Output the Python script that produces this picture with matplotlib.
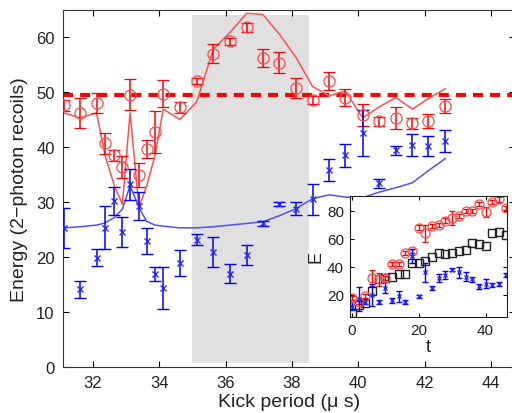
import numpy as np
import matplotlib
matplotlib.use('Agg')
import matplotlib.pyplot as plt

plt.rcParams['font.family'] = ['Liberation Sans', 'DejaVu Sans']

# main panel: kick period scan
kick = [31.12, 31.61, 32.11, 32.37, 32.65, 32.89, 33.12, 33.39, 33.62, 33.87,
        34.12, 34.62, 35.13, 35.63, 36.13, 36.63, 37.12, 37.62, 38.12, 38.62,
        39.12, 39.60, 40.13, 40.63, 41.13, 41.63, 42.11, 42.62]

red_E = [47.6, 46.2, 48.0, 40.7, 38.5, 36.3, 49.5, 34.9, 39.6, 42.7,
         49.7, 47.2, 52.0, 57.0, 59.2, 61.8, 56.2, 55.3, 50.7, 48.5,
         52.0, 49.0, 45.8, 44.7, 45.2, 44.3, 44.7, 47.5]
red_err = [1.0, 2.8, 1.8, 1.9, 1.0, 2.0, 2.8, 2.2, 1.6, 3.8,
           2.4, 1.0, 0.6, 1.8, 0.7, 0.8, 1.7, 1.9, 1.8, 0.7,
           1.7, 1.6, 2.0, 0.8, 2.0, 1.0, 1.3, 1.3]
red_theory = [46.2, 45.3, 46.2, 38.4, 32.9, 29.6, 46.2, 29.0, 32.9, 38.4,
              46.9, 45.0, 48.2, 57.8, 60.8, 64.3, 64.1, 60.5, 56.3, 51.0,
              49.3, 50.2, 45.3, 47.3, 49.0, 46.9, 48.8, 50.6]

blue_E = [25.3, 14.1, 19.9, 25.3, 30.2, 24.6, 33.2, 29.3, 22.9, 16.9,
          14.4, 18.9, 23.1, 20.9, 17.0, 20.4, 26.1, 29.6, 28.8, 30.5,
          35.9, 38.5, 42.6, 33.4, 39.4, 40.4, 40.2, 41.1]
blue_err = [3.7, 1.5, 1.6, 3.9, 2.5, 2.7, 2.8, 2.6, 2.3, 1.3,
            3.8, 2.4, 1.0, 2.7, 1.8, 1.8, 0.5, 0.4, 1.2, 2.8,
            2.0, 2.1, 4.2, 0.8, 0.8, 2.0, 1.8, 2.0]
blue_theory = [25.3, 25.5, 25.8, 26.2, 27.2, 28.7, 33.0, 29.0, 26.5, 25.8,
               25.6, 25.3, 25.3, 25.5, 25.8, 26.1, 26.4, 27.5, 28.8, 30.6,
               31.3, 30.9, 30.8, 31.8, 32.6, 33.5, 35.7, 37.9]

# inset: energy vs kick number
t_ins = [0, 2, 4, 6, 8, 10, 12, 14, 16, 18, 20, 22, 24, 26, 28, 30,
         32, 34, 36, 38, 40, 42, 44, 46]
ins_red = [18, 15, 19, 32, 31, 32, 42, 42, 50, 51, 68, 64, 69, 70, 73, 75,
           76, 80, 80, 85, 79, 86, 88, 82]
ins_red_err = [1.5, 1.5, 1.5, 6, 4.5, 1.5, 1.5, 1.5, 1.5, 1.5, 1.5, 6, 1.5, 1.5, 1.5, 5,
               1.5, 1.5, 1.5, 1.5, 3.5, 1.5, 1.5, 1.5]
ins_black = [7, 13, 14, 23, 31, 32, 33, 35, 35, 43, 43, 44, 47, 50, 49, 50,
             51, 52, 57, 56, 55, 64, 65, 63]
ins_blue = [12, 17, 15, 20, 15, 25, 16, 19, 15, 48, 19, 36, 25, 32, 34, 38,
            36, 33, 31, 26, 28, 27, 28, 34]
ins_blue_err = [3, 8.5, 1.5, 8, 1.5, 4, 1.5, 4, 1.5, 5, 1, 7, 1.5, 3, 3, 1,
                4, 3, 1.5, 1.5, 3, 1.5, 1.5, 1.5]

fig = plt.figure(figsize=(5.12, 4.14), dpi=100)
ax = fig.add_axes([63 / 512, 1 - 368 / 414, (515 - 63) / 512, (368 - 10.5) / 414])

ax.axvspan(35, 38.5, ymin=0.01, ymax=0.986, color='#e0e0e0', lw=0, zorder=0)
ax.axhline(49.5, color='#ff0000', lw=3, dashes=(2.4, 1.7), zorder=1)

ax.plot(kick, red_theory, color='#ff5050', lw=1.1, zorder=2)
ax.plot(kick, blue_theory, color='#5050ff', lw=1.1, zorder=2)
ax.errorbar(kick, red_E, yerr=red_err, fmt='o', mfc='none', mec='#ff4a4a',
            ms=8, mew=0.9, ecolor='#ff0000', elinewidth=1.1, capsize=4, zorder=3)
ax.errorbar(kick, blue_E, yerr=blue_err, fmt='x', mec='#2a2aff', ms=4.5, mew=1.0,
            ecolor='#0000ff', elinewidth=1.1, capsize=4, zorder=3)

ax.set_xlim(31.1, 44.72)
ax.set_ylim(0, 65)
ax.set_xticks([32, 34, 36, 38, 40, 42, 44])
ax.set_yticks([0, 10, 20, 30, 40, 50, 60])
ax.tick_params(direction='in', top=True, right=True, length=4, labelsize=12,
               labelcolor='#222222', pad=6)
ax.set_xlabel('Kick period (\u03bc s)', fontsize=14, color='#222222', labelpad=2)
ax.set_ylabel('Energy (2\u2212photon recoils)', fontsize=14, color='#222222', labelpad=6)
for s in ax.spines.values():
    s.set_color('#333333')

# inset
ins = fig.add_axes([349.5 / 512, 1 - 318.3 / 414, (507 - 349.5) / 512, (318.3 - 196.7) / 414])
ins.errorbar(t_ins, ins_red, yerr=ins_red_err, fmt='o', mfc='none', mec='#ff4a4a',
             ms=6.5, mew=0.9, ecolor='#ff0000', elinewidth=1.0, capsize=2.5)
ins.plot(t_ins, ins_black, 's', mfc='none', mec='#222222', ms=6, mew=1.0)
ins.errorbar(t_ins, ins_blue, yerr=ins_blue_err, fmt='x', mec='#2a2aff', ms=3.5, mew=1.0,
             ecolor='#0000ff', elinewidth=1.0, capsize=2.5)
ins.set_xlim(-0.7, 46.4)
ins.set_ylim(4, 90.7)
ins.set_xticks([0, 20, 40])
ins.set_yticks([20, 40, 60, 80])
ins.tick_params(direction='in', top=True, right=True, length=3, labelsize=11,
                labelcolor='#222222', pad=4)
ins.set_xlabel('t', fontsize=13, color='#222222', labelpad=1)
ins.set_ylabel('E', fontsize=13, color='#222222', labelpad=2)
for s in ins.spines.values():
    s.set_color('#222222')

fig.savefig('out.png', dpi=100)
